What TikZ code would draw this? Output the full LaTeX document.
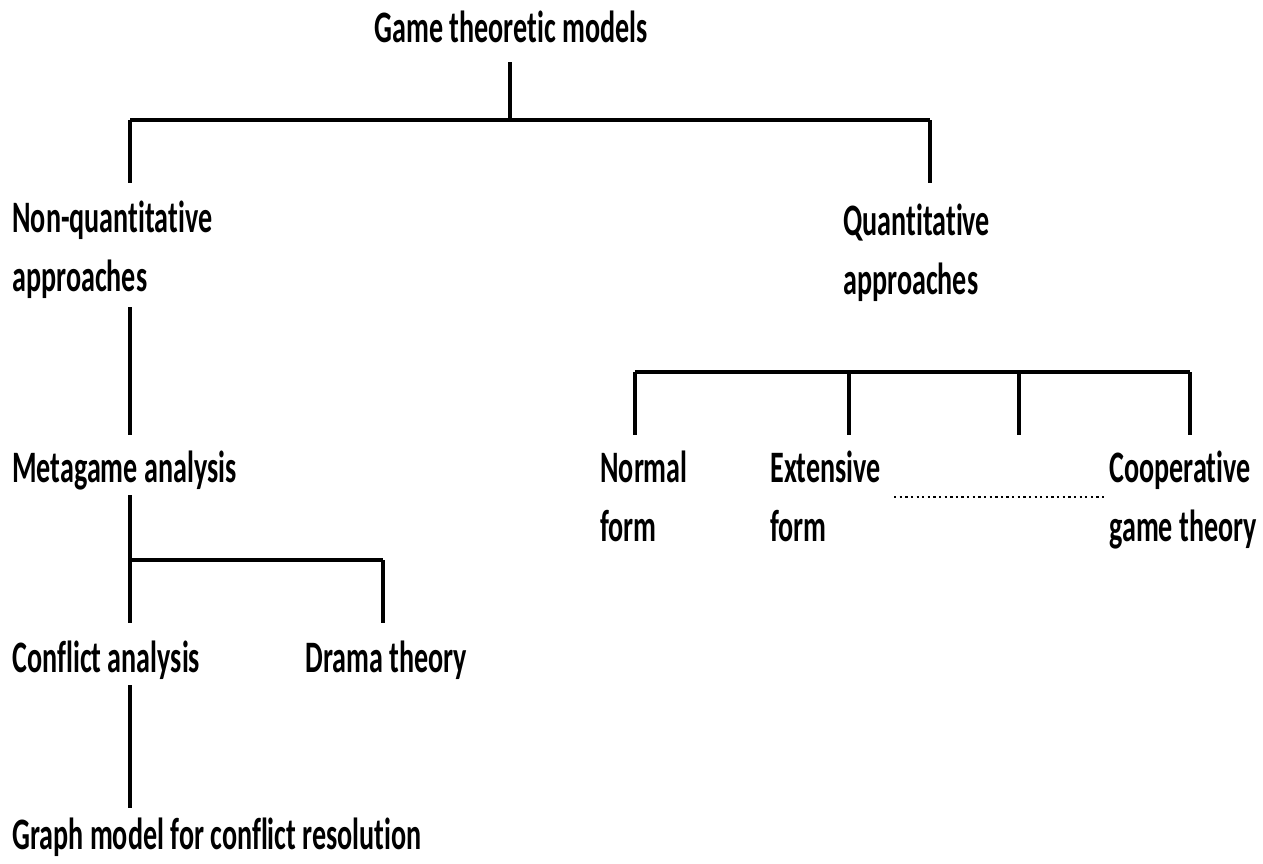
\documentclass[tikz,border=0pt]{standalone}
\usepackage{fontspec}
\usepackage{graphicx}
\setmainfont[Ligatures={NoCommon}]{Carlito}
\usetikzlibrary{positioning, calc}
\newcommand{\stretched}[1]{\scalebox{1}[1.6]{\begin{tabular}[t]{@{}l@{}}#1\end{tabular}}}

\begin{document}
\begin{tikzpicture}[x=0.02cm, y=-0.02cm,
    lbl/.style={font=\bfseries\fontsize{16}{21.3}\selectfont, inner sep=0pt, anchor=base west},
    stem/.style={line width=1.9pt, black},
    bar/.style={line width=2.7pt, black},
    gap/.style={line width=1.3pt, dash pattern=on 1.3pt off 1.9pt}]
    \useasboundingbox (0,0) rectangle (1263,863);

    % Labels
    \node[lbl, anchor=base] (game) at (511,42) {\stretched{Game theoretic models}};
    \node[lbl] (nonquant) at (12,232) {\stretched{Non-quantitative\\approaches}};
    \node[lbl] (quant) at (843,235) {\stretched{Quantitative\\approaches}};
    \node[lbl] (meta) at (12,482) {\stretched{Metagame analysis}};
    \node[lbl] (conflict) at (12,672) {\stretched{Conflict analysis}};
    \node[lbl] (drama) at (305,672) {\stretched{Drama theory}};
    \node[lbl] (graphmodel) at (12,849) {\stretched{Graph model for conflict resolution}};
    \node[lbl] (normal) at (600,482) {\stretched{Normal\\form}};
    \node[lbl] (extensive) at (770,482) {\stretched{Extensive\\form}};
    \node[lbl] (coop) at (1109,482) {\stretched{Cooperative\\game theory}};

    % Junction points
    \coordinate (gameS) at (510,62);
    \coordinate (gameJ) at (510,120);
    \coordinate (barL) at (130,120);
    \coordinate (barR) at (930,120);
    \coordinate (nonquantN) at (130,183);
    \coordinate (quantN) at (930,183);
    \coordinate (nonquantS) at (130,307);
    \coordinate (metaN) at (130,435);
    \coordinate (metaS) at (130,495);
    \coordinate (metaL) at (130,560);
    \coordinate (metaR) at (383,560);
    \coordinate (conflictN) at (130,623);
    \coordinate (dramaN) at (383,623);
    \coordinate (conflictS) at (130,685);
    \coordinate (graphN) at (130,808);
    \coordinate (qbarL) at (635,372);
    \coordinate (qbarR) at (1190,372);
    \coordinate (dotsL) at (894,497);
    \coordinate (dotsR) at (1107,497);

    % Top level
    \draw[stem] (gameS) -- (gameJ);
    \draw[bar] (barL) -- (barR);
    \draw[stem] (barL) -- (nonquantN);
    \draw[stem] (barR) -- (quantN);

    % Non-quantitative branch
    \draw[stem] (nonquantS) -- (metaN);
    \draw[stem] (metaS) -- (metaL);
    \draw[bar] (metaL) -- (metaR);
    \draw[stem] (metaL) -- (conflictN);
    \draw[stem] (metaR) -- (dramaN);
    \draw[stem] (conflictS) -- (graphN);

    % Quantitative branch
    \draw[bar] (qbarL) -- (qbarR);
    \foreach \x in {635,849,1019,1190}
        \draw[stem] (\x,372) -- (\x,435);
    \draw[gap] (dotsL) -- (dotsR);
\end{tikzpicture}
\end{document}
